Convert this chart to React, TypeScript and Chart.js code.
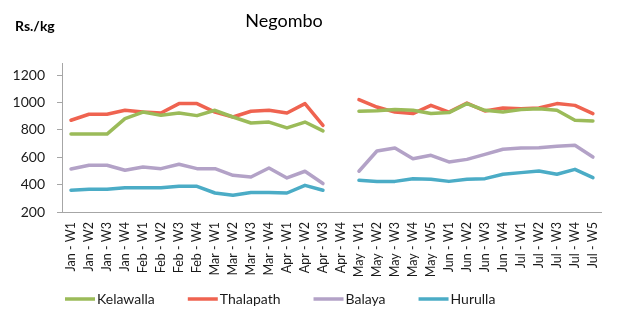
import React, { useEffect, useRef } from "react";
import { Chart, registerables } from "chart.js";

Chart.register(...registerables);

const categories = [
  "Jan - W1", "Jan - W2", "Jan - W3", "Jan - W4",
  "Feb - W1", "Feb - W2", "Feb - W3", "Feb - W4",
  "Mar - W1", "Mar - W2", "Mar - W3", "Mar - W4",
  "Apr - W1", "Apr - W2", "Apr - W3", "Apr - W4",
  "May - W1", "May - W2", "May - W3", "May - W4", "May - W5",
  "Jun - W1", "Jun - W2", "Jun - W3", "Jun - W4",
  "Jul - W1", "Jul - W2", "Jul - W3", "Jul - W4", "Jul - W5",
];

const kelawalla = [
  770, 770, 770, 883, 931, 907, 924, 905, 944, 895, 851, 858, 815, 858, 793, null,
  937, 940, 949, 944, 920, 927, 993, 944, 931, 949, 956, 944, 871, 866,
];
const thalapath = [
  871, 915, 915, 944, 931, 924, 993, 993, 931, 895, 937, 944, 924, 993, 834, null,
  1022, 968, 931, 920, 980, 931, 997, 939, 961, 956, 961, 993, 980, 920,
];
const balaya = [
  515, 542, 542, 505, 529, 517, 549, 517, 517, 468, 456, 522, 449, 498, 408, null,
  498, 646, 668, 590, 615, 566, 585, 622, 659, 668, 670, 681, 688, 602,
];
const hurulla = [
  359, 366, 366, 378, 378, 378, 388, 388, 339, 322, 342, 342, 339, 395, 359, null,
  432, 424, 424, 444, 439, 424, 439, 444, 476, 488, 500, 476, 512, 451,
];

const yTickValues = [200, 400, 600, 800, 1000, 1200];

const seriesNames = ["Kelawalla", "Thalapath", "Balaya", "Hurulla"];
const seriesColors = ["#9BBB59", "#EF6350", "#B3A2C7", "#4BACC6"];

const titleText = "Negombo";
const unitText = "Rs./kg";

const FONT = "Lato, 'Open Sans', sans-serif";

const decorPlugin = {
  id: "decor",
  afterDraw(chart: any) {
    const ctx = chart.ctx;
    ctx.save();
    // title
    ctx.fillStyle = "#000";
    ctx.font = `18px ${FONT}`;
    ctx.textAlign = "center";
    ctx.textBaseline = "alphabetic";
    ctx.fillText(titleText, 284, 27);
    // unit
    ctx.font = `bold 14px ${FONT}`;
    ctx.textAlign = "left";
    ctx.fillText(unitText, 15, 31);
    // legend
    ctx.font = `14px ${FONT}`;
    ctx.textBaseline = "middle";
    let x = 65;
    const y = 299;
    chart.data.datasets.forEach((ds: any) => {
      ctx.strokeStyle = ds.borderColor;
      ctx.lineWidth = 3.5;
      ctx.beginPath();
      ctx.moveTo(x, y);
      ctx.lineTo(x + 30, y);
      ctx.stroke();
      ctx.fillStyle = "#1a1a1a";
      ctx.fillText(ds.label, x + 32, y);
      x += 32 + ctx.measureText(ds.label).width + 33;
    });
    ctx.restore();
  },
};

export default function App() {
  const ref = useRef<HTMLCanvasElement>(null);

  useEffect(() => {
    if (!ref.current) return;
    const all = [kelawalla, thalapath, balaya, hurulla];
    const chart = new Chart(ref.current, {
      type: "line",
      data: {
        labels: categories,
        datasets: all.map((d, i) => ({
          label: seriesNames[i],
          data: d,
          borderColor: seriesColors[i],
          backgroundColor: seriesColors[i],
          borderWidth: 3.5,
          pointRadius: 0,
          tension: 0,
          spanGaps: false,
          borderCapStyle: "round",
          borderJoinStyle: "round",
        })),
      },
      options: {
        responsive: false,
        animation: false,
        devicePixelRatio: 1,
        layout: { padding: { top: 63, right: 5, left: 0, bottom: 0 } },
        plugins: {
          legend: { display: false },
          title: { display: false },
          tooltip: { enabled: false },
        },
        scales: {
          x: {
            offset: true,
            grid: { display: false, drawTicks: false },
            border: { display: true, color: "#A6A6A6", width: 1 },
            ticks: {
              autoSkip: false,
              maxRotation: 90,
              minRotation: 90,
              padding: 10,
              color: "#1a1a1a",
              font: { family: FONT, size: 12.5 },
            },
            afterFit: (s: any) => {
              s.height = 99;
            },
          },
          y: {
            min: 200,
            max: 1290,
            grid: {
              drawOnChartArea: false,
              drawTicks: true,
              tickLength: 5,
              color: "#A6A6A6",
            },
            border: { display: true, color: "#A6A6A6", width: 1 },
            ticks: {
              padding: 12,
              color: "#1a1a1a",
              font: { family: FONT, size: 14 },
              callback: (v: any) => String(v),
            },
            afterBuildTicks: (s: any) => {
              s.ticks = yTickValues.map((v) => ({ value: v }));
            },
            afterFit: (s: any) => {
              s.width = 62;
            },
          },
        },
      },
      plugins: [decorPlugin],
    });
    return () => chart.destroy();
  }, []);

  return (
    <div style={{ position: "fixed", left: 0, top: 0, width: 618, height: 311, background: "#fff" }}>
      <canvas ref={ref} width={618} height={311} />
    </div>
  );
}
